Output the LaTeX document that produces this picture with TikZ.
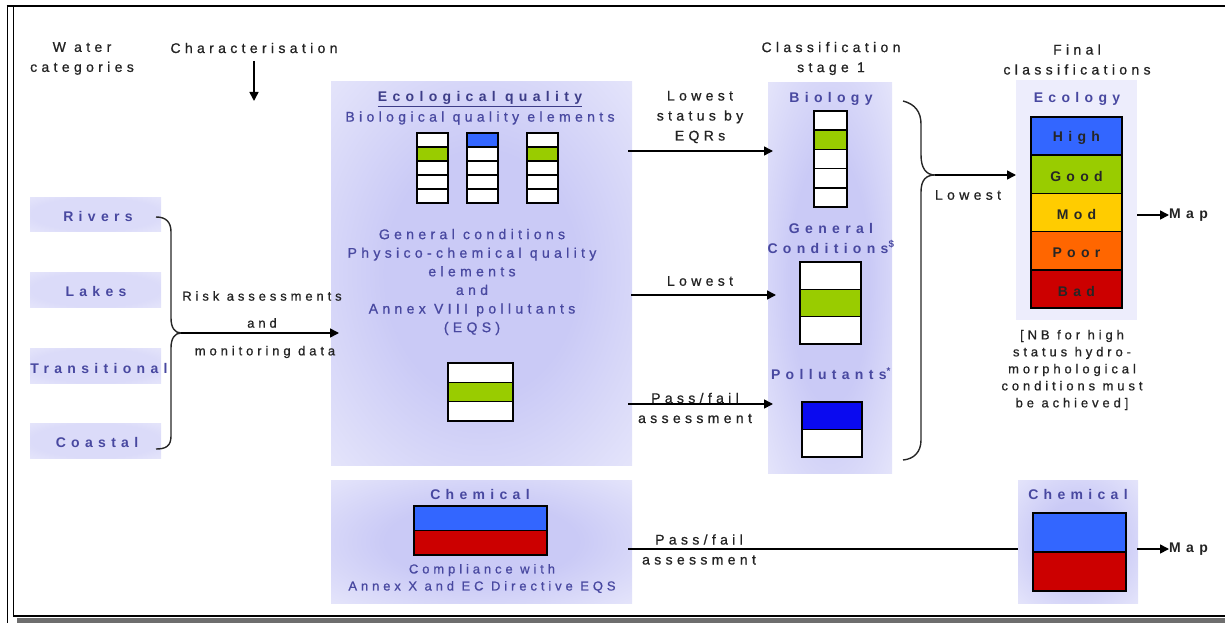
\documentclass[tikz,border=0pt]{standalone}
\usepackage{fontspec}
\setmainfont{Liberation Sans}
\newfontfamily\wls[LetterSpace=31,FakeBold=0.8]{Liberation Sans}
\newfontfamily\wlb[LetterSpace=38]{Liberation Sans}
\newfontfamily\wlsm[LetterSpace=30,FakeBold=0.8]{Liberation Sans}
\usetikzlibrary{arrows.meta}
\definecolor{lav}{RGB}{237,237,252}
\definecolor{glow}{RGB}{202,202,246}
\definecolor{labc}{RGB}{72,72,160}
\definecolor{dtxt}{RGB}{35,35,35}
\definecolor{hic}{RGB}{51,102,255}
\definecolor{goodc}{RGB}{153,204,0}
\definecolor{modc}{RGB}{255,204,0}
\definecolor{poorc}{RGB}{255,102,0}
\definecolor{badc}{RGB}{204,0,0}
\definecolor{pblue}{RGB}{10,10,240}
\definecolor{shadowc}{RGB}{110,110,110}
\pgfdeclareradialshading{glowA}{\pgfpoint{0bp}{0bp}}{color(0bp)=(glow);color(16bp)=(glow);color(42bp)=(lav);color(50bp)=(lav)}
\pgfdeclareradialshading{glowB}{\pgfpoint{0bp}{0bp}}{color(0bp)=(glow!50!lav);color(25bp)=(glow!50!lav);color(45bp)=(lav);color(50bp)=(lav)}
\newcommand\stackbar[5]{\foreach \c [count=\i from 0] in {#5} {\filldraw[cellst, fill=\c] (#1,{#2+\i*#4}) rectangle (#3,{#2+(\i+1)*#4});}}
\begin{document}
\begin{tikzpicture}[x=1pt,y=-1pt,
  cellst/.style={draw=black, line width=1.6pt},
  boxA/.style={shade, shading=glowA, draw=none, inner sep=0pt},
  boxB/.style={shade, shading=glowB, draw=none, inner sep=0pt},
  boxF/.style={fill=lav, draw=none, inner sep=0pt},
  txt/.style={font=\wls\fontsize{14}{20}\selectfont, text=dtxt, align=center, inner sep=0pt},
  lab/.style={txt, text=labc},
  hdr/.style={font=\wlb\bfseries\fontsize{14}{20}\selectfont, text=labc, align=center, inner sep=0pt},
  sml/.style={font=\wlsm\fontsize{13}{17}\selectfont, text=dtxt, align=center, inner sep=0pt},
  arr/.style={line width=1.6pt, -{Triangle[length=9pt,width=9pt]}},
  brace/.style={line width=1.4pt, draw=black!85}]
\useasboundingbox (0,0) rectangle (1225,623);
% frame
\draw[line width=1.2pt] (7.5,5) -- (7.5,623);
\draw[line width=2pt] (6.5,6) -- (1225,6);
\draw[line width=1.6pt] (13.5,6) -- (13.5,616) -- (1225,616);
\fill[shadowc] (17,618) rectangle (1225,623);
% background boxes
\node[boxB, minimum width=131, minimum height=34] (riv) at (95.5,214) {};
\node[boxB, minimum width=131, minimum height=35] (lak) at (95.5,289.5) {};
\node[boxB, minimum width=131, minimum height=35] (tra) at (95.5,365.5) {};
\node[boxB, minimum width=131, minimum height=35] (coa) at (95.5,440.5) {};
\node[boxA, minimum width=301, minimum height=383] (eco) at (481.5,273.5) {};
\node[boxA, minimum width=124, minimum height=390] (cls) at (830,278) {};
\node[boxF, minimum width=121, minimum height=240] (ecf) at (1076.5,200) {};
\node[boxA, minimum width=301, minimum height=123] (chl) at (481.5,541.5) {};
\node[boxA, minimum width=120, minimum height=123] (chr) at (1078,541.5) {};
% headings
\node[txt] (wc) at (82,58.5) {W ater\\categories};
\node[txt] (ch) at (254,48) {Characterisation};
\coordinate (chs) at (254,61);
\coordinate (che) at (254,101);
\draw[arr] (chs) -- (che);
\node[txt] (cs) at (831,58.5) {Classification\\stage 1};
\node[txt] (fc) at (1077,59.5) {Final\\classifications};
% water categories
\node[hdr] (rivt) at (98,216) {Rivers};
\node[hdr] (lakt) at (96,291) {Lakes};
\node[hdr] (trat) at (99,368) {Transitional};
\node[hdr] (coat) at (97,442) {Coastal};
\draw[brace] (156,217) .. controls (166,217) and (171,222) .. (171,232) -- (171,318) .. controls (171,328) and (175,333) .. (181,333) .. controls (175,333) and (171,338) .. (171,348) -- (171,436) .. controls (171,446) and (166,449) .. (156,449);
\coordinate (bt1) at (181,333);
\coordinate (be1) at (339,333);
\draw[arr] (bt1) -- (be1);
\node[sml] (ra1) at (262,296) {Risk assessments};
\node[sml] (ra2) at (262,323) {and};
\node[sml] (ra3) at (265,352) {monitoring data};
% ecological box content
\node[hdr, text=labc!85!black] (ecot) at (480,99) {\underline{Ecological quality}};
\node[lab] (bqe) at (480,118) {Biological quality elements};
\stackbar{417}{133}{448}{14}{white,goodc,white,white,white}
\stackbar{467}{133}{498}{14}{hic,white,white,white,white}
\stackbar{527}{133}{558}{14}{white,goodc,white,white,white}
\node[lab, font=\wls\fontsize{14}{18.6}\selectfont] (gct) at (472,282) {General conditions\\Physico-chemical quality\\elements\\and\\Annex VIII pollutants\\(EQS)};
\stackbar{448}{363}{513}{19.3}{white,goodc,white}
% classification stage 1
\node[hdr] (bio) at (831,99) {Biology};
\stackbar{814}{111}{847}{19.2}{white,goodc,white,white,white}
\node[hdr] (gcl) at (831,238) {General\\Conditions\textsuperscript{\$}};
\stackbar{800}{262}{861}{27.3}{white,goodc,white}
\node[hdr] (pol) at (831,374) {Pollutants\textsuperscript{*}};
\stackbar{802}{402}{862}{27.5}{pblue,white}
% arrows eco -> classification
\coordinate (a1s) at (628,151); \coordinate (a1e) at (773,151);
\coordinate (a2s) at (631,295); \coordinate (a2e) at (776,295);
\coordinate (a3s) at (628,404); \coordinate (a3e) at (773,404);
\draw[arr] (a1s) -- (a1e);
\draw[arr] (a2s) -- (a2e);
\draw[arr] (a3s) -- (a3e);
\node[txt] (l1) at (700,117) {Lowest\\status by\\EQRs};
\node[txt] (l2) at (700,281) {Lowest};
\node[txt] (l3) at (695,408) {Pass/fail\\assessment};
% big brace
\draw[brace] (903,101) .. controls (915,104) and (921,112) .. (921,124) -- (921,155) .. controls (921,168) and (926,175) .. (935,175) .. controls (926,175) and (921,180) .. (921,192) -- (921,440) .. controls (921,452) and (914,459) .. (903,460);
\coordinate (bt2) at (935,175);
\coordinate (be2) at (1016,175);
\draw[arr] (bt2) -- (be2);
\node[txt] (low3) at (968,195) {Lowest};
% final ecology
\node[hdr] (ecl) at (1077,99) {Ecology};
\stackbar{1031}{117}{1122}{38.2}{hic,goodc,modc,poorc,badc}
\node[hdr, text=black!85] (hi) at (1076.5,138) {High};
\node[hdr, text=black!85] (gd) at (1076.5,176) {Good};
\node[hdr, text=black!85] (md) at (1076.5,214) {Mod};
\node[hdr, text=black!85] (pr) at (1076.5,252.5) {Poor};
\node[hdr, text=black!85] (bd) at (1076.5,291) {Bad};
\coordinate (m1s) at (1137,215);
\node[hdr, text=dtxt, anchor=west] (map1) at (1169,215) {Map};
\draw[arr] (m1s) -- (map1.west);
\node[sml] (nb) at (1072,370) {[NB for high\\status hydro-\\morphological\\conditions must\\be achieved]};
% chemical
\node[hdr] (chlt) at (480,494) {Chemical};
\stackbar{414}{506}{547}{24.5}{hic,badc}
\node[sml, text=labc] (comp) at (482,578.5) {Compliance with\\Annex X and EC Directive EQS};
\node[hdr] (chrt) at (1078,494) {Chemical};
\stackbar{1033}{513}{1126}{39}{hic,badc}
\coordinate (p4s) at (628,549);
\draw[line width=1.6pt] (p4s) -- (chr.west |- p4s);
\node[txt] (l4) at (699,549.5) {Pass/fail\\assessment};
\coordinate (m2s) at (1137,549);
\node[hdr, text=dtxt, anchor=west] (map2) at (1169,549) {Map};
\draw[arr] (m2s) -- (map2.west);
\end{tikzpicture}
\end{document}
